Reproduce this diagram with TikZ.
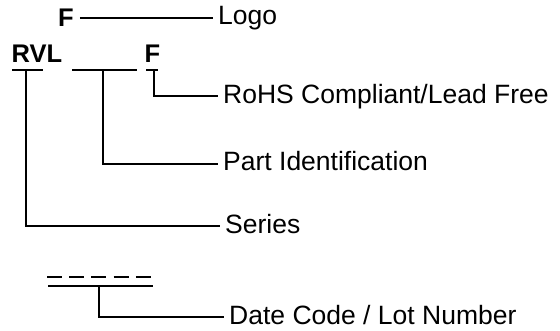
\documentclass[tikz,border=0pt]{standalone}
\usepackage{fontspec}
\setmainfont{Liberation Sans}
\tikzset{
  partmark/.style={font=\fontsize{25.5}{30}\selectfont\bfseries, inner sep=0pt},
  callout/.style={anchor=west, font=\fontsize{26.5}{31}\selectfont, inner xsep=5pt, inner ysep=0pt, text height=19pt, text depth=5.5pt},
  lead/.style={line width=2pt}
}
\begin{document}
\begin{tikzpicture}[x=1pt,y=-1pt]
\useasboundingbox (0,0) rectangle (560,331);
% marking
\node[partmark] (logoF) at (66,18) {F};
\node[partmark] (rvl) at (37,53.5) {RVL};
\node[partmark] (leadF) at (152.5,53.5) {F};
\draw[lead] (12,70) -- (43,70);
\draw[lead] (72,70) -- (137,70);
\draw[lead] (146,70) -- (158,70);
\draw[lead,dash pattern=on 15pt off 7.2pt] (47,277) -- (151,277);
\draw[lead] (48,286) -- (153,286);
\coordinate (seriesdrop) at (26,70);
\coordinate (partdrop) at (103,70);
\coordinate (leaddrop) at (154,70);
\coordinate (datedrop) at (99,286);
% labels
\node[callout] (logo) at (213,18) {Logo};
\node[callout] (rohs) at (218,96.5) {RoHS Compliant/Lead Free};
\node[callout] (partid) at (218,164) {Part Identification};
\node[callout] (series) at (220,226.5) {Series};
\node[callout] (datecode) at (224,317.5) {Date Code / Lot Number};
% leads
\draw[lead] ([xshift=6pt]logoF.east) -- (logo.west);
\draw[lead] (leaddrop) |- (rohs.west);
\draw[lead] (partdrop) |- (partid.west);
\draw[lead] (seriesdrop) |- (series.west);
\draw[lead] (datedrop) |- (datecode.west);
\end{tikzpicture}
\end{document}
